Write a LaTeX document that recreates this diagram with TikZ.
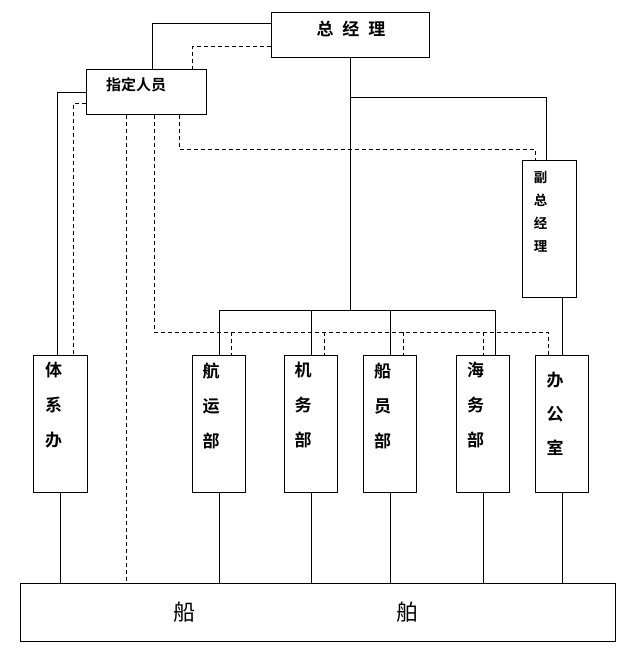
\documentclass[tikz,border=0pt]{standalone}
\usepackage{fontspec}
\newfontfamily\cjk{Noto Sans CJK SC}[BoldFont={* Bold}]
\begin{document}
\begin{tikzpicture}[x=1pt,y=-1pt,
  box/.style={draw,line width=1pt,rectangle,inner sep=0pt,anchor=north west},
  ln/.style={line width=1pt},
  dl/.style={line width=1pt,dash pattern=on 4pt off 3pt},
  vtxt/.style={inner sep=0pt,align=center,font=\cjk\bfseries\fontsize{17}{35}\selectfont},
]
\useasboundingbox[fill=white] (0,0) rectangle (641,653);
% boxes
\node[box,minimum width=158pt,minimum height=45pt] (zjl) at (271,12) {};
\node[box,minimum width=120pt,minimum height=45pt] (zdry) at (86,69) {};
\node[box,minimum width=54pt,minimum height=137pt] (fzjl) at (522,160) {};
\node[box,minimum width=54pt,minimum height=137pt] (txb) at (33,355) {};
\node[box,minimum width=53pt,minimum height=137pt] (hyb) at (192,355) {};
\node[box,minimum width=53pt,minimum height=137pt] (jwb) at (284,355) {};
\node[box,minimum width=53pt,minimum height=137pt] (cyb) at (363,355) {};
\node[box,minimum width=53pt,minimum height=137pt] (hwb) at (456,355) {};
\node[box,minimum width=53pt,minimum height=137pt] (bgs) at (535,355) {};
\node[box,minimum width=595pt,minimum height=58pt] (cb) at (20,583) {};
% texts
\node[inner sep=0pt,font=\cjk\bfseries\fontsize{17}{20}\selectfont] (tzjl) at (351,28.5) {总\hspace{9pt}经\hspace{9pt}理};
\node[inner sep=0pt,font=\cjk\bfseries\fontsize{15}{18}\selectfont] (tzdry) at (136,85) {指定人员};
\node[vtxt,font=\cjk\bfseries\fontsize{13.5}{23}\selectfont] (tfzjl) at (540.5,211.5) {副\\总\\经\\理};
\node[vtxt] (ttxb) at (53.5,405.5) {体\\系\\办};
\node[vtxt] (thyb) at (211,405.5) {航\\运\\部};
\node[vtxt] (tjwb) at (303,405.5) {机\\务\\部};
\node[vtxt] (tcyb) at (382.6,405.5) {船\\员\\部};
\node[vtxt] (thwb) at (475.5,405.5) {海\\务\\部};
\node[vtxt,font=\cjk\bfseries\fontsize{17}{34}\selectfont] (tbgs) at (555,413.5) {办\\公\\室};
\node[inner sep=0pt,font=\cjk\fontsize{22}{26}\selectfont] (tcb1) at (184,611.7) {船};
\node[inner sep=0pt,font=\cjk\fontsize{22}{26}\selectfont] (tcb2) at (407.5,611.7) {舶};
% helper coordinates
\coordinate (sbus) at (0,310.3);
\coordinate (dbus) at (0,332.3);
% connectors from top
\draw[ln] (zjl.west |- 0,23.3) -| (zdry.north -| 152.7,0);
\draw[dl] (zjl.west |- 0,46.7) -| (zdry.north -| 192.3,0);
\draw[ln] (zdry.west |- 0,92.3) -| (txb.north -| 57.7,0);
\draw[dl] (zdry.west |- 0,103.3) -| (txb.north -| 73.7,0);
\draw[dl] (zdry.south -| 126.5,0) -- (cb.north -| 126.5,0);
\draw[dl] (zdry.south -| 179.3,0) |- (535,149.7) -- (fzjl.north -| 535,0);
\draw[dl] (zdry.south -| 154.7,0) |- (dbus -| 548.7,0) -- (bgs.north -| 548.7,0);
\draw[ln] (zjl.south) -- (zjl.south |- sbus);
\draw[ln] (zjl.south |- 0,97.3) -| (fzjl.north -| 546.7,0);
\draw[ln] (fzjl.south -| bgs.north) -- (bgs.north);
% solid bus
\draw[ln] (sbus -| hyb.north) -- (sbus -| 495.3,0);
\draw[ln] (sbus -| hyb.north) -- (hyb.north);
\draw[ln] (sbus -| jwb.north) -- (jwb.north);
\draw[ln] (sbus -| cyb.north) -- (cyb.north);
\draw[ln] (sbus -| 495.3,0) -- (hwb.north -| 495.3,0);
% dashed drops
\draw[dl] (dbus -| 231.3,0) -- (hyb.north -| 231.3,0);
\draw[dl] (dbus -| 324.3,0) -- (jwb.north -| 324.3,0);
\draw[dl] (dbus -| 403.3,0) -- (cyb.north -| 403.3,0);
\draw[dl] (dbus -| hwb.north) -- (hwb.north);
% bottom connectors
\foreach \n in {txb,hyb,jwb,cyb,hwb,bgs}{
  \draw[ln] (\n.south) -- (\n.south |- cb.north);
}
\end{tikzpicture}
\end{document}
